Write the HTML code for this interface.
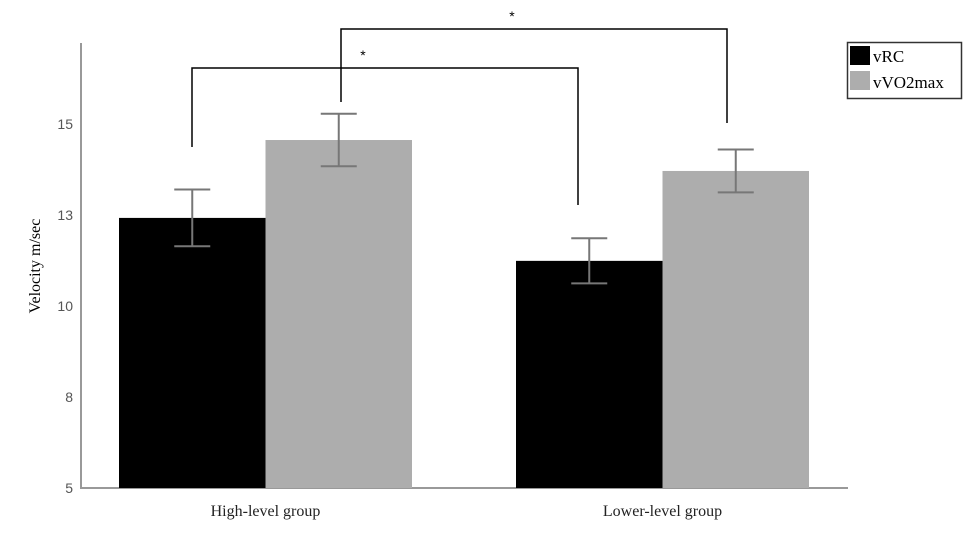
<!DOCTYPE html>
<html><head><meta charset="utf-8"><style>
body{margin:0;background:#fff}
svg text{font-family:"Liberation Sans",sans-serif}
</style></head><body>
<svg id="chart" width="975" height="539" xmlns="http://www.w3.org/2000/svg">
<g id="axes"></g><g id="bars"></g><g id="brackets"></g>
<g>
<rect x="847.5" y="42.5" width="114" height="56" fill="#fff" stroke="#333" stroke-width="1.5"/>
<rect x="850" y="46" width="20" height="19" fill="#000"/>
<text x="873" y="62" font-family="Liberation Serif" style="font-family:'Liberation Serif',serif" font-size="17">vRC</text>
<rect x="850" y="71" width="20" height="19" fill="#adadad"/>
<text x="873" y="88" style="font-family:'Liberation Serif',serif" font-size="17">vVO2max</text>
</g>
<text transform="translate(40,266) rotate(-90)" text-anchor="middle" style="font-family:'Liberation Serif',serif" font-size="16">Velocity m/sec</text>
</svg>
<script>
const categories=["High-level group","Lower-level group"];
const vRC=[12.42,11.24];
const vVO2max=[14.56,13.71];
const vRCerr=[0.78,0.62];
const vVO2err=[0.72,0.59];
const tickValues=[5,7.5,10,12.5,15];
const tickLabels=["5","8","10","13","15"];
const NS="http://www.w3.org/2000/svg";
function y(v){return 488-(v-5)*36.4;}
function gx(i){return 119+i*397;}
function mk(p,tag,a){const e=document.createElementNS(NS,tag);for(const k in a)e.setAttribute(k,a[k]);p.appendChild(e);return e;}
const axes=document.getElementById('axes'),bars=document.getElementById('bars'),br=document.getElementById('brackets');
let e=mk(axes,'line',{x1:81,y1:43,x2:81,y2:489,stroke:'#999','stroke-width':2});


e=mk(axes,'line',{x1:80,y1:488,x2:848,y2:488,stroke:'#999','stroke-width':2});


tickValues.forEach((v,i)=>{const t=mk(axes,'text',{x:73,y:y(v)+5,'text-anchor':'end','font-size':14,fill:'#555'});t.textContent=tickLabels[i];

});
const W=146.5;
categories.forEach((c,i)=>{
 const x0=gx(i);
 [[vRC,vRCerr,'#000',0,'vrc'],[vVO2max,vVO2err,'#adadad',1,'vvo2max']].forEach(([vals,errs,col,k,nm])=>{
  const x=x0+k*W;
  const r=mk(bars,'rect',{x:x,y:y(vals[i]),width:W,height:488-y(vals[i]),fill:col});
  
  
  const cx=x+W/2,hi=y(vals[i]+errs[i]),lo=y(vals[i]-errs[i]);
  const g=mk(bars,'g',{stroke:'#777','stroke-width':2});
  
  
  mk(g,'line',{x1:cx,y1:hi,x2:cx,y2:lo});
  mk(g,'line',{x1:cx-18,y1:hi,x2:cx+18,y2:hi});
  mk(g,'line',{x1:cx-18,y1:lo,x2:cx+18,y2:lo});
 });
 const t=mk(axes,'text',{x:x0+W,y:516,'text-anchor':'middle','font-size':16,fill:'#222',style:"font-family:'Liberation Serif',serif"});
 t.textContent=c;
 
 
});
function bracket(x1,x2,yt,y1,y2,name){
 const p=mk(br,'path',{d:`M${x1},${y1}V${yt}H${x2}V${y2}`,fill:'none',stroke:'#000','stroke-width':1.5});
 
 
 const s=mk(br,'text',{x:(x1+x2)/2-22,y:yt-8,'font-size':14,'text-anchor':'middle'});
 s.textContent='*';
 
 
}
bracket(192,578,68,147,205,'significance-bracket-vrc');
bracket(341,727,29,102,123,'significance-bracket-vvo2max');
</script>
</body></html>
